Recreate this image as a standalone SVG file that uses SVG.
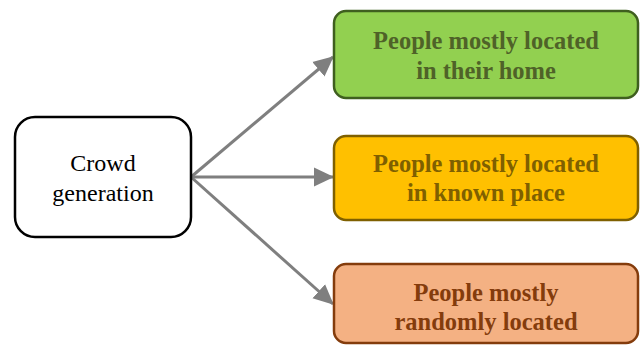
<svg xmlns="http://www.w3.org/2000/svg" width="641" height="345" viewBox="0 0 641 345">
<defs>
<style>
.lbl{font-family:"Liberation Serif","Times New Roman",serif;font-size:24px;text-anchor:middle}
.b{font-weight:bold;font-size:24.5px}
.conn{stroke:#7f7f7f;stroke-width:3;fill:none}
</style>
<marker id="ah" viewBox="0 0 10 10" refX="9.5" refY="5" markerWidth="6.7" markerHeight="6.7" orient="auto" markerUnits="strokeWidth">
<path d="M0,0.3 L10,5 L0,9.7 Z" fill="#7f7f7f"/>
</marker>
</defs>
<rect width="641" height="345" fill="#ffffff"/>
<g id="connectors">
<line class="conn" x1="191" y1="177" x2="333" y2="57" marker-end="url(#ah)"/>
<line class="conn" x1="191" y1="177" x2="333" y2="177" marker-end="url(#ah)"/>
<line class="conn" x1="191" y1="177" x2="333" y2="304" marker-end="url(#ah)"/>
</g>
<g id="crowd">
<rect x="15" y="117" width="176" height="120" rx="20" fill="#ffffff" stroke="#000000" stroke-width="2.5"/>
<text class="lbl" x="103" y="171" fill="#000">Crowd</text>
<text class="lbl" x="103" y="201" fill="#000">generation</text>
</g>
<g id="home">
<rect x="334" y="11" width="304" height="87" rx="12" fill="#92d050" stroke="#3f5f1f" stroke-width="2.5"/>
<text class="lbl b" x="486" y="49" fill="#4f6228">People mostly located</text>
<text class="lbl b" x="486" y="79" fill="#4f6228">in their home</text>
</g>
<g id="known">
<rect x="334" y="136" width="304" height="84" rx="12" fill="#ffc000" stroke="#7f6000" stroke-width="2.5"/>
<text class="lbl b" x="486" y="172" fill="#7f6000">People mostly located</text>
<text class="lbl b" x="486" y="201" fill="#7f6000">in known place</text>
</g>
<g id="random">
<rect x="334" y="264" width="304" height="79" rx="12" fill="#f4b183" stroke="#843c0c" stroke-width="2.5"/>
<text class="lbl b" x="486" y="301" fill="#843c0c">People mostly</text>
<text class="lbl b" x="486" y="330" fill="#843c0c">randomly located</text>
</g>
</svg>
